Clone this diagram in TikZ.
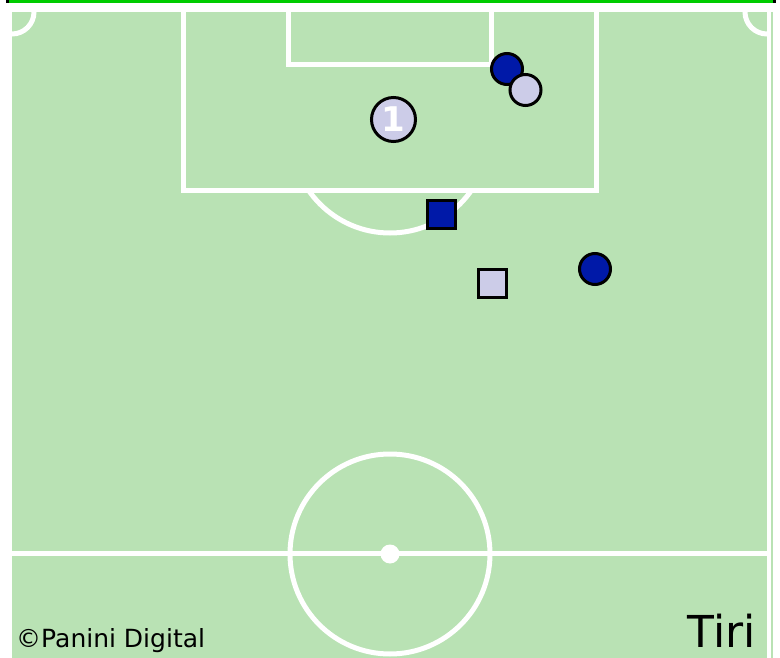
\documentclass[tikz,border=0pt]{standalone}
\usepackage{fontspec}
\setmainfont{DejaVu Sans}
\usepackage{tikz}
\usetikzlibrary{positioning}
\definecolor{pitch}{RGB}{185,226,180}
\definecolor{bargreen}{RGB}{0,204,0}
\definecolor{homeblue}{RGB}{0,25,168}
\definecolor{awaylilac}{RGB}{204,204,232}
\tikzset{
	pitchline/.style={draw=white, line width=5pt},
	player/.style={circle, draw=black, line width=3pt, inner sep=0pt, minimum size=31pt},
	marker/.style={rectangle, draw=black, line width=3pt, inner sep=0pt, minimum size=28.5pt},
	caption/.style={inner sep=0pt, text=black}
}

\begin{document}
\begin{tikzpicture}[x=1pt, y=-1pt,
			homeplayer/.style={player, fill=homeblue},
			awayplayer/.style={player, fill=awaylilac},
			keeper/.style={player, fill=awaylilac, minimum size=44pt,
				font=\fontsize{34}{34}\selectfont\bfseries, text=white},
			]
			\useasboundingbox (0,0) rectangle (780,658);
			
			%% -- Top bar and pitch
			\fill[black] (6,0) rectangle (9,3.5);
			\fill[black] (773,0) rectangle (776,3.5);
			\fill[bargreen] (9,0) rectangle (773,3.5);
			\fill[pitch] (12,12) rectangle (767,658);
			\draw[pitch, line width=1.5pt] (772,12) -- (772,658);
			
			%% -- Corner arcs and penalty arc
			\begin{scope}
				\clip (12,12) rectangle (767,658);
				\draw[pitchline] (12,12) circle (22);
				\draw[pitchline] (767,12) circle (22);
			\end{scope}
			\begin{scope}
				\clip (12,193) rectangle (767,658);
				\draw[pitchline] (390,134) circle (99);
			\end{scope}
			
			%% -- Boxes
			\draw[pitchline] (183,10) -- (183,191) -- (596,191) -- (596,10);
			\draw[pitchline] (288,10) -- (288,65) -- (491.5,65) -- (491.5,10);
			
			%% -- Halfway line and centre circle
			\draw[pitchline] (12,553.5) -- (767,553.5);
			\draw[pitchline] (390,554) circle (100);
			\fill[white] (390,554) circle (9.5);
			
			%% -- Players
			\node[keeper] (gk) at (393.5,119.5) {1};
			\node[homeplayer] (h1) at (507,69) {};
			\node[awayplayer] (a1) at (525.5,90) {};
			\node[homeplayer] (h2) at (595,269) {};
			
			%% -- Square markers
			\node[marker, fill=homeblue] (hs) at (441.5,214.5) {};
			\node[marker, fill=awaylilac] (as) at (492.5,283.5) {};
			
			%% -- Captions
			\node[caption, anchor=base west, font=\fontsize{25}{30}\selectfont]
			(credit) at (16,647) {©Panini Digital};
			\node[caption, anchor=base east, font=\fontsize{44}{50}\selectfont]
			(title) at (756,647) {Tiri};
			
		\end{tikzpicture}
\end{document}
